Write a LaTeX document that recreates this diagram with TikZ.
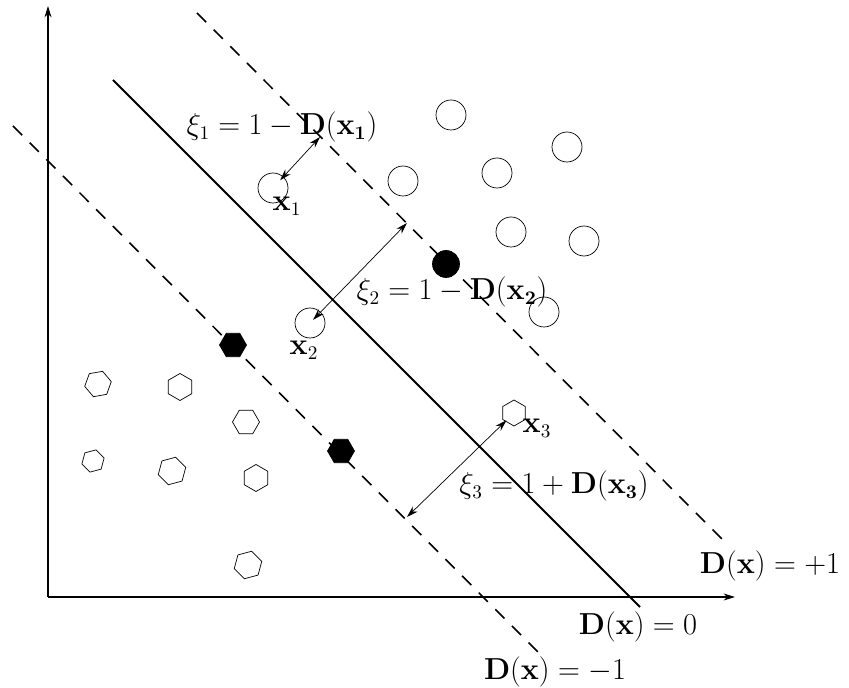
\documentclass[tikz,border=0pt]{standalone}
\usepackage{amsmath}
\usetikzlibrary{shapes.geometric,arrows.meta}

\tikzset{
  circ/.style={circle, draw, thin, minimum size=0.6cm, inner sep=0pt},
  circfill/.style={circ, fill=black, minimum size=0.54cm},
  hexa/.style={regular polygon, regular polygon sides=6, draw, thin,
    minimum size=0.54cm, inner sep=0pt},
  hexafill/.style={hexa, fill=black},
  margin/.style={line width=0.9pt, dash pattern=on 7.4pt off 6pt},
  slack/.style={<->, line width=0.4pt},
  lbl/.style={font=\fontsize{16}{19}\selectfont, inner sep=1pt},
}

\begin{document}
\begin{tikzpicture}[x=0.02cm, y=-0.02cm, >={Stealth[length=6.5pt, width=4pt]}]
  \useasboundingbox (0,0) rectangle (849,688);

  % --- Axes ---
  \draw[->, semithick] (48,597) -- (48,6);
  \draw[->, semithick] (48,597) -- (735,597);

  % --- Decision boundary and margins ---
  \draw[line width=1.1pt] (113,80) -- (640,607);
  \draw[margin] (197,13) -- (722,539);
  \draw[margin] (13,126) -- (538,652);

  % --- Class +1 (circles) ---
  \node[circ] (c1) at (451,115) {};
  \node[circ] (c2) at (567,147) {};
  \node[circ] (c3) at (497,173) {};
  \node[circ] (c4) at (403,181) {};
  \node[circ] (c5) at (511,232) {};
  \node[circ] (c6) at (584,241) {};
  \node[circ] (c7) at (544,312) {};
  \node[circ] (x1) at (273,188) {};
  \node[circ] (x2) at (310,323) {};
  \node[circfill] (f1) at (446,264) {};

  % --- Class -1 (hexagons) ---
  \node[hexa, rotate=10] (h1) at (98,384) {};
  \node[hexa, rotate=30] (h2) at (180,387) {};
  \node[hexa] (h3) at (246,422) {};
  \node[hexa, rotate=15, minimum size=0.46cm] (h4) at (93,461) {};
  \node[hexa, rotate=15, minimum size=0.57cm] (h5) at (172,471) {};
  \node[hexa, rotate=30] (h6) at (256,478) {};
  \node[hexa, rotate=15, minimum size=0.57cm] (h7) at (248,565) {};
  \node[hexa, rotate=30, minimum size=0.52cm] (x3) at (514,413) {};
  \node[hexafill] (g1) at (233,345) {};
  \node[hexafill] (g2) at (341,451) {};

  % --- Slack variables ---
  \coordinate (m1) at (320,137);
  \coordinate (m2) at (407,223);
  \coordinate (m3) at (407,517);
  \draw[slack, shorten <=6pt] (x1.center) -- (m1);
  \draw[slack, shorten <=2.5pt] (x2.center) -- (m2);
  \draw[slack, shorten <=6pt] (x3.center) -- (m3);

  \node[lbl] (s1) at (282,127) {$\xi_1 = 1 - \mathbf{D}(\mathbf{x_1})$};
  \node[lbl] (s2) at (452,292) {$\xi_2 = 1 - \mathbf{D}(\mathbf{x_2})$};
  \node[lbl] (s3) at (554,486) {$\xi_3 = 1 + \mathbf{D}(\mathbf{x_3})$};
  \node[lbl] (l1) at (287,206) {$\mathbf{x}_1$};
  \node[lbl] (l2) at (304,350) {$\mathbf{x}_2$};
  \node[lbl] (l3) at (537,428) {$\mathbf{x}_3$};

  % --- Boundary labels ---
  \node[lbl] (dp) at (770,566) {$\mathbf{D}(\mathbf{x}) = +1$};
  \node[lbl] (d0) at (638,627) {$\mathbf{D}(\mathbf{x}) = 0$};
  \node[lbl] (dm) at (555,672) {$\mathbf{D}(\mathbf{x}) = -1$};
\end{tikzpicture}
\end{document}
